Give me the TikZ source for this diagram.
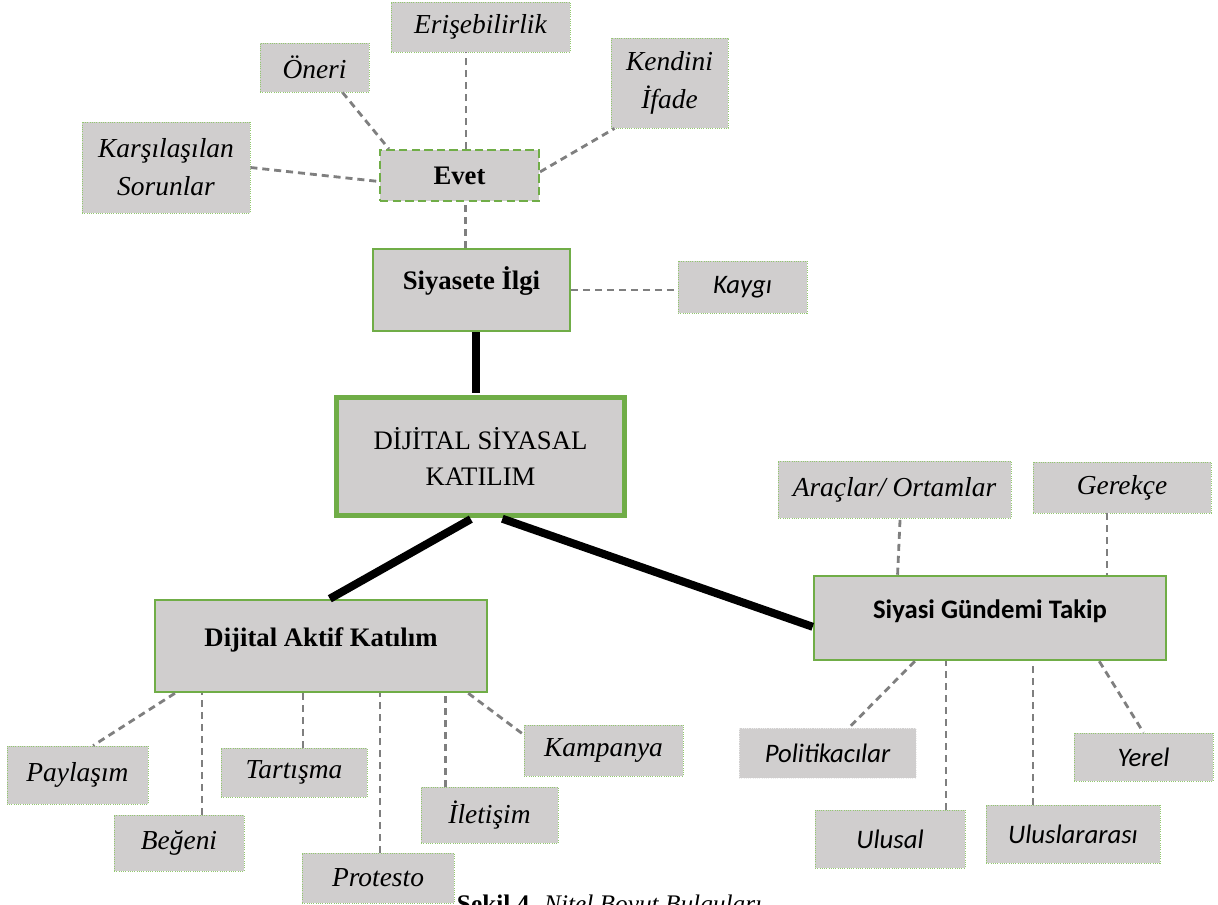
\documentclass[tikz,border=0pt]{standalone}
\usepackage{fontspec}
\setmainfont{Liberation Serif}
\newfontfamily\calibri{Carlito}
\usepackage{tikz}
\usetikzlibrary{positioning}
\usetikzlibrary{calc}
\definecolor{boxgray}{RGB}{208,206,206}
\definecolor{leafgreen}{RGB}{112,173,71}
\definecolor{dotgreen}{RGB}{146,200,110}
\definecolor{linkgray}{RGB}{127,127,127}

\begin{document}
\begin{tikzpicture}[x=0.025cm, y=-0.025cm,
  wh/.style 2 args={minimum width=#1*0.025cm, minimum height=#2*0.025cm},
  leaf/.style={fill=boxgray, draw=dotgreen, densely dotted, line width=0.6pt, inner sep=2pt, align=center, font=\fontsize{19.5}{27}\selectfont\itshape},
  leafsans/.style={leaf, font=\fontsize{19}{26}\selectfont\calibri\itshape},
  branch/.style={fill=boxgray, draw=leafgreen, line width=1.8pt, inner sep=2pt, text height=13pt, text depth=13pt, font=\fontsize{19}{24}\selectfont\bfseries},
  evetbox/.style={fill=boxgray, draw=leafgreen, line width=1.5pt, dash pattern=on 6pt off 3pt, inner sep=2pt, font=\fontsize{19}{24}\selectfont\bfseries},
  link/.style={draw=linkgray, line width=2pt, dash pattern=on 5pt off 3.5pt},
  trunk/.style={draw=black, line width=5.7pt},
]
\useasboundingbox (0,0) rectangle (1218,905);
%
\node[leaf, wh={179}{50}] (erisebilirlik) at (480.5,27) {Erişebilirlik};
\node[leaf, wh={109}{49}] (oneri) at (314.5,67.5) {Öneri};
\node[leaf, wh={168}{91}] (karsilasilan) at (166,167.5) {Karşılaşılan\\Sorunlar};
\node[leaf, wh={117}{90}] (kendini_ifade) at (669.5,83) {Kendini\\İfade};
\node[evetbox, wh={159}{51}] (evet) at (459.5,175.5) {Evet};
\node[branch, wh={197}{82}] (siyasete_ilgi) at (471.5,290) {Siyasete İlgi};
\node[leafsans, wh={129}{52}] (kaygi) at (742.5,287) {Kaygı};

%
\node[fill=boxgray, draw=leafgreen, line width=3.5pt, wh={288}{118}, align=center, font=\fontsize{19}{26}\selectfont] (dsk_main) at (480.5,456.5) {DİJİTAL SİYASAL\\KATILIM};

%
\node[branch, wh={332}{92}] (aktif_kat) at (321,646) {Dijital Aktif Katılım};
\node[leaf, wh={141}{58}] (paylasim) at (77.5,775) {Paylaşım};
\node[leaf, wh={130}{56}] (begeni) at (179,843) {Beğeni};
\node[leaf, wh={146}{49}] (tartisma) at (294,772.5) {Tartışma};
\node[leaf, wh={152}{50}] (protesto) at (378,878) {Protesto};
\node[leaf, wh={137}{56}] (iletisim) at (489.5,815) {İletişim};
\node[leaf, wh={159}{51}] (kampanya) at (603.5,750.5) {Kampanya};

%
\node[branch, wh={352}{84}, font=\fontsize{19}{24}\selectfont\calibri\bfseries] (gundem_takip) at (990,618) {Siyasi Gündemi Takip};
\node[leaf, wh={233}{57}] (araclar) at (894.5,489.5) {Araçlar/ Ortamlar};
\node[leaf, wh={178}{51}] (gerekce) at (1122,487.5) {Gerekçe};
\node[leafsans, draw=white!85!gray, wh={177}{50}] (politikacilar) at (827.5,753) {Politikacılar};
\node[leafsans, wh={150}{58}] (ulusal) at (890,839) {Ulusal};
\node[leafsans, wh={174}{58}] (uluslararasi) at (1073,834) {Uluslararası};
\node[leafsans, wh={139}{48}] (yerel) at (1143.5,757) {Yerel};

%
\draw[link] ([xshift=0.7cm]oneri.south) -- ([xshift=0.25cm]evet.north west);
\draw[link] ([xshift=0.16cm]evet.north) -- ([xshift=0.16cm]evet.north |- erisebilirlik.south);
\draw[link] (karsilasilan.east) -- ([yshift=-0.15cm]evet.west);
\draw[link] ([yshift=0.09cm]evet.east) -- ([xshift=0.1cm]kendini_ifade.south west);
\draw[link] ([xshift=-0.14cm]siyasete_ilgi.north) -- ([xshift=-0.14cm]siyasete_ilgi.north |- evet.south);
\draw[link] (siyasete_ilgi.east) -- (siyasete_ilgi.east -| kaygi.west);

%
\draw[trunk, shorten >=1.7pt] ([xshift=0.11cm]siyasete_ilgi.south) -- ([xshift=0.11cm]siyasete_ilgi.south |- dsk_main.north);
\draw[trunk, shorten <=1.7pt] ([xshift=-0.19cm]dsk_main.south) -- ([xshift=0.22cm]aktif_kat.north);
\draw[trunk, shorten <=1.7pt] ([xshift=0.49cm]dsk_main.south) -- ([yshift=-0.22cm]gundem_takip.west);

%
\draw[link] ([xshift=0.53cm]aktif_kat.south west) -- ([xshift=0.39cm]paylasim.north);
\draw[link] ([xshift=0.575cm]begeni.north) -- ([xshift=0.575cm]begeni.north |- aktif_kat.south);
\draw[link] ([xshift=0.225cm]tartisma.north) -- ([xshift=0.225cm]tartisma.north |- aktif_kat.south);
\draw[link] ([xshift=0.05cm]protesto.north) -- ([xshift=0.05cm]protesto.north |- aktif_kat.south);
\draw[link] ([xshift=-1.09cm]iletisim.north) -- ([xshift=-1.09cm]iletisim.north |- aktif_kat.south);
\draw[link] ([xshift=-0.5cm]aktif_kat.south east) -- ([yshift=-0.25cm]kampanya.north west);

%
\draw[link] ([xshift=-2.31cm]gundem_takip.north) -- ([xshift=0.14cm]araclar.south);
\draw[link] ([xshift=-0.375cm]gerekce.south) -- ([xshift=-0.375cm]gerekce.south |- gundem_takip.north);
\draw[link] ([xshift=2.55cm]gundem_takip.south west) -- ([xshift=0.54cm]politikacilar.north);
\draw[link] ([xshift=1.4cm]ulusal.north) -- ([xshift=1.4cm]ulusal.north |- gundem_takip.south);
\draw[link] ([xshift=-1cm]uluslararasi.north) -- ([xshift=-1cm]uluslararasi.north |- gundem_takip.south);
\draw[link] ([xshift=-1.7cm]gundem_takip.south east) -- (yerel.north);

%
\node[anchor=base west, font=\fontsize{18}{22}\selectfont] (sekil_caption) at (452,912) {\textbf{Şekil 4.} \textit{Nitel Boyut Bulguları}};
\end{tikzpicture}
\end{document}
